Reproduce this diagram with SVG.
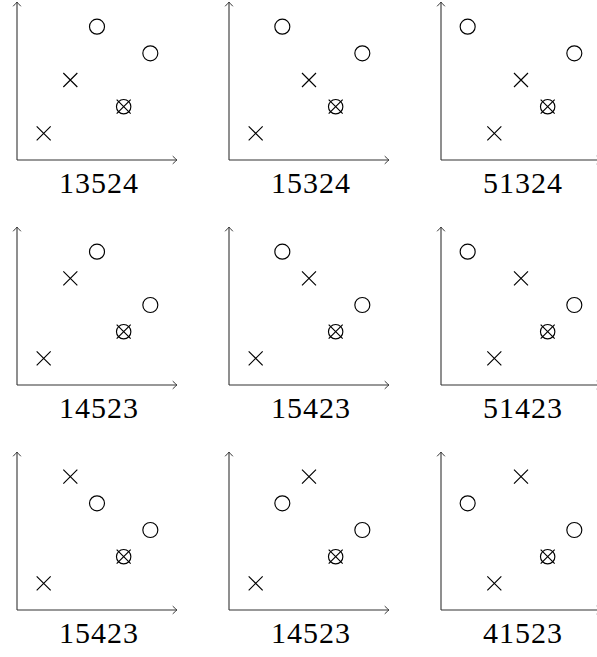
<svg xmlns="http://www.w3.org/2000/svg" xmlns:xlink="http://www.w3.org/1999/xlink" width="597" height="657" viewBox="0 0 597 657">
<style>
.axis{stroke:#333;stroke-width:1.1;fill:none}
.ah{stroke:#222;stroke-width:0.9;fill:none;stroke-linecap:round}
.mk{stroke:#000;stroke-width:1.15;fill:none}
.lbl{font-family:"Liberation Serif","DejaVu Serif",serif;font-size:30px;fill:#000;text-anchor:middle}
</style>
<defs>
<path id="ah" class="ah" d="M -4 -3.6 Q -1.2 -0.9 0 0 Q -1.2 0.9 -4 3.6"/>
<g id="ax">
<line class="axis" x1="0" y1="0" x2="0" y2="-157"/>
<line class="axis" x1="0" y1="0" x2="159" y2="0"/>
<use xlink:href="#ah" transform="translate(0,-158) rotate(-90)"/>
<use xlink:href="#ah" transform="translate(160,0)"/>
</g>
<g id="x"><path class="mk" d="M -7 -7 L 7 7 M -7 7 L 7 -7"/></g>
<g id="o"><circle class="mk" cx="0" cy="0" r="7.5"/></g>
<g id="ox"><circle class="mk" cx="0" cy="0" r="7.2"/><path class="mk" d="M -7 -7 L 7 7 M -7 7 L 7 -7"/></g>
</defs>

<g id="connectors"></g>

<g id="p13524" transform="translate(17,160)">
<use xlink:href="#ax"/>
<use xlink:href="#x" x="26.67" y="-26.67"/>
<use xlink:href="#x" x="53.33" y="-80"/>
<use xlink:href="#o" x="80" y="-133.33"/>
<use xlink:href="#ox" x="106.67" y="-53.33"/>
<use xlink:href="#o" x="133.33" y="-106.67"/>
<text class="lbl" x="81.5" y="33" textLength="79" lengthAdjust="spacing">13524</text>
</g>

<g id="p15324" transform="translate(229,160)">
<use xlink:href="#ax"/>
<use xlink:href="#x" x="26.67" y="-26.67"/>
<use xlink:href="#o" x="53.33" y="-133.33"/>
<use xlink:href="#x" x="80" y="-80"/>
<use xlink:href="#ox" x="106.67" y="-53.33"/>
<use xlink:href="#o" x="133.33" y="-106.67"/>
<text class="lbl" x="81.5" y="33" textLength="79" lengthAdjust="spacing">15324</text>
</g>

<g id="p51324" transform="translate(441,160)">
<use xlink:href="#ax"/>
<use xlink:href="#o" x="26.67" y="-133.33"/>
<use xlink:href="#x" x="53.33" y="-26.67"/>
<use xlink:href="#x" x="80" y="-80"/>
<use xlink:href="#ox" x="106.67" y="-53.33"/>
<use xlink:href="#o" x="133.33" y="-106.67"/>
<text class="lbl" x="81.5" y="33" textLength="79" lengthAdjust="spacing">51324</text>
</g>

<g id="p14523a" transform="translate(17,385)">
<use xlink:href="#ax"/>
<use xlink:href="#x" x="26.67" y="-26.67"/>
<use xlink:href="#x" x="53.33" y="-106.67"/>
<use xlink:href="#o" x="80" y="-133.33"/>
<use xlink:href="#ox" x="106.67" y="-53.33"/>
<use xlink:href="#o" x="133.33" y="-80"/>
<text class="lbl" x="81.5" y="33" textLength="79" lengthAdjust="spacing">14523</text>
</g>

<g id="p15423a" transform="translate(229,385)">
<use xlink:href="#ax"/>
<use xlink:href="#x" x="26.67" y="-26.67"/>
<use xlink:href="#o" x="53.33" y="-133.33"/>
<use xlink:href="#x" x="80" y="-106.67"/>
<use xlink:href="#ox" x="106.67" y="-53.33"/>
<use xlink:href="#o" x="133.33" y="-80"/>
<text class="lbl" x="81.5" y="33" textLength="79" lengthAdjust="spacing">15423</text>
</g>

<g id="p51423" transform="translate(441,385)">
<use xlink:href="#ax"/>
<use xlink:href="#o" x="26.67" y="-133.33"/>
<use xlink:href="#x" x="53.33" y="-26.67"/>
<use xlink:href="#x" x="80" y="-106.67"/>
<use xlink:href="#ox" x="106.67" y="-53.33"/>
<use xlink:href="#o" x="133.33" y="-80"/>
<text class="lbl" x="81.5" y="33" textLength="79" lengthAdjust="spacing">51423</text>
</g>

<g id="p15423b" transform="translate(17,610)">
<use xlink:href="#ax"/>
<use xlink:href="#x" x="26.67" y="-26.67"/>
<use xlink:href="#x" x="53.33" y="-133.33"/>
<use xlink:href="#o" x="80" y="-106.67"/>
<use xlink:href="#ox" x="106.67" y="-53.33"/>
<use xlink:href="#o" x="133.33" y="-80"/>
<text class="lbl" x="81.5" y="33" textLength="79" lengthAdjust="spacing">15423</text>
</g>

<g id="p14523b" transform="translate(229,610)">
<use xlink:href="#ax"/>
<use xlink:href="#x" x="26.67" y="-26.67"/>
<use xlink:href="#o" x="53.33" y="-106.67"/>
<use xlink:href="#x" x="80" y="-133.33"/>
<use xlink:href="#ox" x="106.67" y="-53.33"/>
<use xlink:href="#o" x="133.33" y="-80"/>
<text class="lbl" x="81.5" y="33" textLength="79" lengthAdjust="spacing">14523</text>
</g>

<g id="p41523" transform="translate(441,610)">
<use xlink:href="#ax"/>
<use xlink:href="#o" x="26.67" y="-106.67"/>
<use xlink:href="#x" x="53.33" y="-26.67"/>
<use xlink:href="#x" x="80" y="-133.33"/>
<use xlink:href="#ox" x="106.67" y="-53.33"/>
<use xlink:href="#o" x="133.33" y="-80"/>
<text class="lbl" x="81.5" y="33" textLength="79" lengthAdjust="spacing">41523</text>
</g>
</svg>
